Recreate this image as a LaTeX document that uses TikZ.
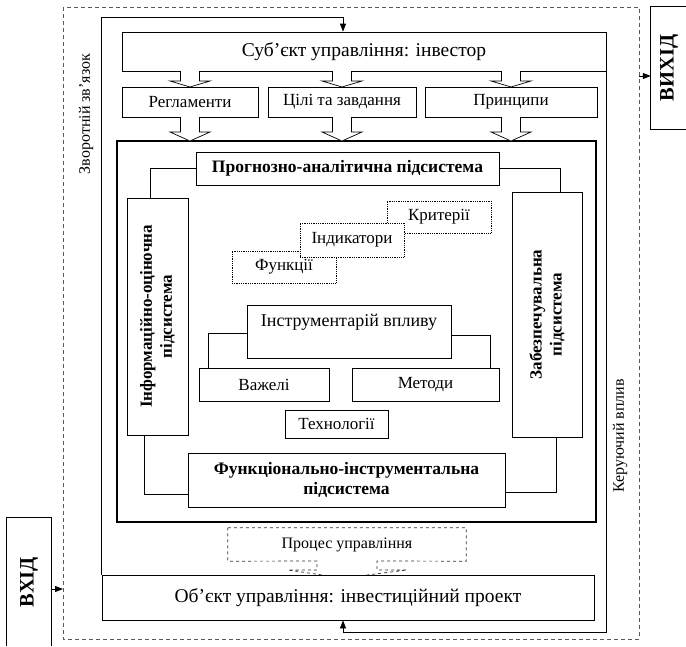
\documentclass[tikz,border=0pt]{standalone}
\usepackage{fontspec}
\setmainfont{Liberation Serif}
\usetikzlibrary{arrows.meta,calc}
\newcommand{\fsz}[2]{\fontsize{#1}{#2}\selectfont}
\newcommand{\blockarrow}[4]{\draw[blockarr] ({#1-9.5},#2) -- ({#1-9.5},#3) -- ({#1-20},#3) -- (#1,#4) -- ({#1+20},#3) -- ({#1+9.5},#3) -- ({#1+9.5},#2);}
\begin{document}
\begin{tikzpicture}[x=1pt,y=-1pt,
  box/.style={draw, line width=0.8pt, inner sep=0pt, align=center, fill=white, font=\fsz{17}{20}},
  dotbox/.style={box, densely dotted, line width=0.6pt},
  conn/.style={line width=0.8pt},
  arr/.style={line width=0.8pt, -{Triangle[length=8pt,width=6pt]}},
  blockarr/.style={draw, line width=0.7pt, fill=white},
  outer/.style={draw=black!65, dash pattern=on 4pt off 3pt, line width=0.7pt},
  side/.style={rotate=90, inner sep=0pt, font=\fsz{16}{19}},
  sub/.style={rotate=90, align=center, inner sep=0pt, font=\bfseries\fsz{17}{20}}
]
\useasboundingbox (0,0) rectangle (686,646);

% outer dashed frame
\draw[outer] (63,7) rectangle (639,639);

% input / output boxes
\node[inner sep=0pt, minimum width=44, minimum height=128] (vhid) at (29,582) {};
\draw[line width=0.8pt] (vhid.south west) -- (vhid.north west) -- (vhid.north east) -- (vhid.south east);
\node[rotate=90, font=\bfseries\fsz{20.5}{24}] (vhidt) at (vhid.center) {ВХІД};
\node[inner sep=0pt, minimum width=36, minimum height=122] (vyh) at (669,68) {};
\draw[line width=0.8pt] (vyh.north east) -- (vyh.north west) -- (vyh.south west) -- (vyh.south east);
\node[rotate=90, font=\bfseries\fsz{20.5}{24}] (vyht) at (vyh.center) {ВИХІД};
\coordinate (dashL) at (63,589);
\draw[arr] (vhid.east |- dashL) -- (dashL);
\coordinate (dashR) at (639,76);
\draw[arr] (dashR) -- (dashR -| vyh.west);

% side labels
\node[side] (zz) at (86,114) {Зворотній зв'язок};
\node[side] (kv) at (620,436) {Керуючий вплив};

% subject and top boxes
\node[box, minimum width=484, minimum height=39, font=\fsz{19.5}{23}] (subj) at (364,51.5) {Суб’єкт управління: інвестор};
\node[box, minimum width=136, minimum height=30] (reg) at (190,102) {Регламенти};
\node[box, minimum width=148, minimum height=30] (cili) at (342,102) {Цілі та завдання};
\node[box, minimum width=172, minimum height=30] (princ) at (511,102) {Принципи};
\blockarrow{190}{71}{81}{87}
\blockarrow{342}{71}{81}{87}
\blockarrow{511}{71}{81}{87}

% thick frame
\node[draw, line width=2.4pt, minimum width=479, minimum height=381, inner sep=0pt] (core) at (356.5,331.5) {};
\blockarrow{190}{117}{132}{141}
\blockarrow{342}{117}{132}{141}
\blockarrow{511}{117}{132}{141}

% subsystems
\node[box, minimum width=303, minimum height=33, font=\bfseries\fsz{17.5}{20}] (prog) at (347.5,168.5) {Прогнозно-аналітична підсистема};
\node[box, minimum width=61, minimum height=237] (info) at (157.5,316.5) {};
\node[sub] (infot) at (info.center) {Інформаційно-оціночна\\підсистема};
\node[box, minimum width=70, minimum height=245] (zab) at (547,314.5) {};
\node[sub] (zabt) at (zab.center) {Забезпечувальна\\підсистема};
\node[box, minimum width=317, minimum height=54, font=\bfseries\fsz{17.5}{20}] (fi) at (346.5,480) {Функціонально-інструментальна\\підсистема};

\draw[conn] (prog.west) -| ($(info.north)+(-7.5,0)$);
\draw[conn] (prog.east) -| ($(zab.north)+(13,0)$);
\draw[conn] ($(info.south)+(-13.5,0)$) |- ($(fi.west)+(0,14)$);
\draw[conn] ($(zab.south)+(9,0)$) |- ($(fi.east)+(0,12)$);

% dotted boxes
\node[dotbox, minimum width=104, minimum height=32] (krit) at (439,217) {Критерії};
\node[dotbox, minimum width=104, minimum height=32] (func) at (284,267) {Функції};
\node[dotbox, minimum width=104, minimum height=34] (ind) at (352,240) {Індикатори};

% instruments
\node[box, minimum width=204, minimum height=53] (instr) at (349,331.5) {};
\node[inner sep=0pt, font=\fsz{18}{21}] (instrt) at (349,322) {Інструментарій впливу};
\node[box, minimum width=130, minimum height=33] (vaz) at (264,384.5) {Важелі};
\node[box, minimum width=147, minimum height=33] (met) at (425.5,384.5) {Методи};
\node[box, minimum width=103, minimum height=28] (tech) at (336.5,424) {Технології};
\draw[conn] ($(instr.west)+(0,1.5)$) -| ($(vaz.north)+(-56,0)$);
\draw[conn] ($(instr.east)+(0,4)$) -| ($(met.north)+(64.5,0)$);
\draw[conn] ($(tech.north)+(2.5,0)$) -- ($(tech.north)+(2.5,0)$ |- instr.south);

% process (dashed callout)
\node[inner sep=0pt, minimum width=238, minimum height=33, font=\fsz{16}{19}] (proc) at (347,544.5) {Процес управління};
\draw[dashed, line width=0.7pt, draw=black!80] (proc.north west) -- (proc.north east) -- (proc.south east)
  -- (377,561) -- (377,570) -- (407,570) -- (343,578) -- (288,570) -- (317,570) -- (317,561) -- (proc.south west) -- cycle;

% object
\node[box, minimum width=492, minimum height=45, font=\fsz{19.5}{23}] (obj) at (348,597.5) {Об’єкт управління: інвестиційний проект};

% feedback loop
\coordinate (fbT) at (343,17);
\coordinate (fbB) at (343,632);
\draw[arr] (obj.north west) |- (fbT) -- (fbT |- subj.north);
\draw[arr] (subj.south east) |- (fbB) -- (fbB |- obj.south);
\end{tikzpicture}
\end{document}
